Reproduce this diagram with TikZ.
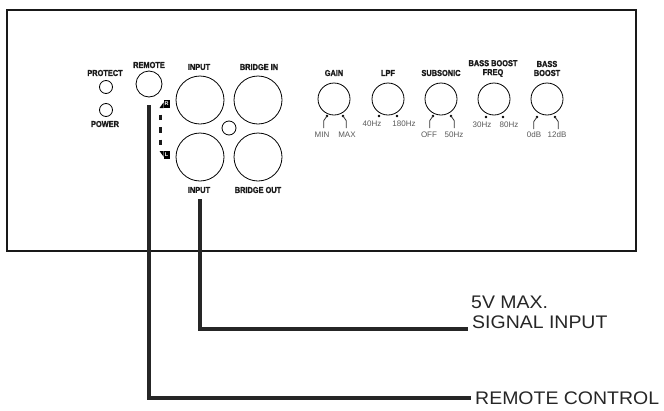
\documentclass[tikz,border=0pt]{standalone}
\usepackage{fontspec}
\setmainfont{Liberation Sans}
\newfontfamily\condfont[FakeStretch=0.86,BoldFeatures={FakeBold=1.5}]{Liberation Sans}
\newfontfamily\widefont[FakeStretch=1.07]{Liberation Sans}
\begin{document}
\begin{tikzpicture}[x=1pt,y=-1pt,
  panel/.style={draw=black!90,line width=1.3pt},
  jack/.style={circle,draw=black,line width=0.8pt,minimum size=#1,inner sep=0pt},
  hd/.style={font=\condfont\bfseries\fontsize{8.6}{9}\selectfont,text=black!90,inner sep=0pt,align=center},
  sm/.style={font=\fontsize{8}{9}\selectfont,text=black!65,inner sep=0pt},
  bigtxt/.style={font=\widefont\fontsize{18.2}{20}\selectfont,text=black!85,inner sep=0pt,anchor=west},
  wire/.style={line width=4pt,draw=black!85},
  knobdot/.style={circle,fill=black,inner sep=0pt,minimum size=2.6pt},
  hook/.style={line width=0.8pt,draw=black!80},
  flag/.style={fill=black,minimum width=6pt,minimum height=8pt,inner sep=0pt,text=white,font=\bfseries\fontsize{5.5}{6}\selectfont}
]
\useasboundingbox (0,0) rectangle (664,410);
% panel
\draw[panel] (7,10) rectangle (636,251);

% left indicators
\node[hd] (tprot) at (105,73) {PROTECT};
\node[jack=13pt] (cprot) at (106,87) {};
\node[jack=13pt] (cpow) at (106,110) {};
\node[hd] (tpow) at (105,124) {POWER};
\node[hd] (trem) at (149,65) {REMOTE};
\node[jack=26pt] (crem) at (149,84) {};

% RCA jacks
\node[hd] (tin1) at (199,67) {INPUT};
\node[hd] (tbin) at (259,67) {BRIDGE IN};
\node[jack=48pt] (cin1) at (200,100) {};
\node[jack=48pt] (cbin) at (258,100) {};
\node[jack=14pt] (csm) at (229,128) {};
\node[jack=48pt] (cin2) at (200,157) {};
\node[jack=48pt] (cbout) at (258,157) {};
\node[hd] (tin2) at (199,190) {INPUT};
\node[hd] (tbout) at (258,190) {BRIDGE OUT};

% R / L flags
\node[flag] (flR) at (166.5,104) {R};
\fill[black] (163.5,102.5) -- (159.5,108) -- (163.5,108) -- cycle;
\node[flag] (flL) at (166.5,155) {L};
\fill[black] (163.5,151) -- (159.5,151) -- (163.5,156.5) -- cycle;
\coordinate (dtop) at (160,114.5);
\coordinate (dbot) at (160,145.5);
\draw[line width=3pt,draw=black!90,dash pattern=on 5.5pt off 7pt] (dtop) -- (dbot);

% knobs
\node[hd] (tgain) at (334,73) {GAIN};
\node[jack=32pt] (kgain) at (334,99) {};
\node[hd] (tlpf) at (388,73) {LPF};
\node[jack=32pt] (klpf) at (388,99) {};
\node[hd] (tsub) at (441,73) {SUBSONIC};
\node[jack=32pt] (ksub) at (441,99) {};
\node[hd] (tbbf) at (493,68.5) {BASS BOOST\\FREQ};
\node[jack=32pt] (kbbf) at (494,99) {};
\node[hd] (tbb) at (547,68.5) {BASS\\BOOST};
\node[jack=32pt] (kbb) at (547,99) {};

% knob dots
\node[knobdot] (dg1) at (327,116) {};
\node[knobdot] (dg2) at (343,116) {};
\node[knobdot] (dl1) at (379,116) {};
\node[knobdot] (dl2) at (397,116) {};
\node[knobdot] (ds1) at (433,116) {};
\node[knobdot] (ds2) at (451,116) {};
\node[knobdot] (df1) at (486,117) {};
\node[knobdot] (df2) at (503,117) {};
\node[knobdot] (db1) at (537,117) {};
\node[knobdot] (db2) at (555,117) {};

% hooks
\draw[hook] (dg1.center) -- ++(-3.3,4.7) -- ++(0,7.5);
\draw[hook] (dg2.center) -- ++(3.3,4.7) -- ++(0,7.5);
\draw[hook] (ds1.center) -- ++(-3.3,4.7) -- ++(0,7.5);
\draw[hook] (ds2.center) -- ++(3.3,4.7) -- ++(0,7.5);
\draw[hook] (db1.center) -- ++(-3.3,4.7) -- ++(0,7.5);
\draw[hook] (db2.center) -- ++(3.3,4.7) -- ++(0,7.5);

% knob labels
\node[sm] (lmin) at (322,135) {MIN};
\node[sm] (lmax) at (347,135) {MAX};
\node[sm] (l40) at (372,124) {40Hz};
\node[sm] (l180) at (404,124) {180Hz};
\node[sm] (loff) at (429,135) {OFF};
\node[sm] (l50) at (454,135) {50Hz};
\node[sm] (l30) at (482,125) {30Hz};
\node[sm] (l80) at (509,125) {80Hz};
\node[sm] (l0) at (534,135) {0dB};
\node[sm] (l12) at (557,135) {12dB};

% bottom labels
\node[bigtxt] (max5) at (471,302) {5V MAX.};
\node[bigtxt] (sig) at (472,322.5) {SIGNAL INPUT};
\node[bigtxt] (remctl) at (475,398.5) {REMOTE CONTROL};

% wires
\coordinate (sigtop) at (199.5,199);
\coordinate (remtop) at (149.3,105);
\draw[wire] (sigtop) |- ([xshift=-4pt]sig.base west);
\draw[wire] (remtop) |- ([xshift=-4pt,yshift=1pt]remctl.west);
\end{tikzpicture}
\end{document}
